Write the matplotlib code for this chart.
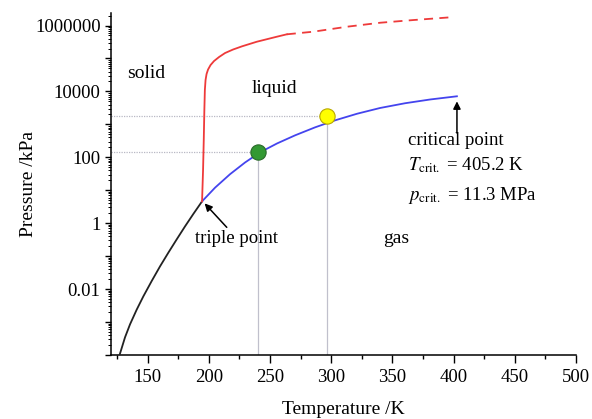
import matplotlib.pyplot as plt
from matplotlib.ticker import FixedLocator, FuncFormatter, NullFormatter

plt.rcParams['font.family'] = 'Liberation Serif'
plt.rcParams['mathtext.fontset'] = 'stix'

# sublimation curve (solid/gas)
sub_T = [127.0, 131.45, 135.54, 140.99, 146.44, 153.25, 160.07, 166.88, 173.70, 180.51, 187.32, 194.41]
sub_p = [1.0e-4, 3.44e-4, 8.53e-4, 2.38e-3, 6.04e-3, 0.0176, 0.0491, 0.128, 0.324, 0.804, 1.92, 4.61]

# vapour pressure curve (liquid/gas)
vap_T = [194.41, 205.03, 217.30, 229.57, 241.83, 255.73, 270.45, 286.80, 303.15, 321.14, 339.94, 360.39, 380.83, 402.66]
vap_p = [4.61, 12.0, 30.8, 69.8, 142, 264, 465, 813, 1327, 2105, 3145, 4383, 5694, 7117]

# melting curve (solid/liquid), measured part and extrapolated part
melt_T = [194.41, 195.23, 195.80, 196.29, 196.70, 197.27, 198.09, 199.31, 201.36, 204.22,
          208.31, 213.21, 219.75, 227.11, 239.13, 255.49, 263.66]
melt_p = [4.61, 41.2, 335, 2730, 11040, 22200, 33750, 46200, 63300, 83700,
          110700, 146300, 187000, 233900, 322000, 457000, 541000]
melt_ext_T = [263.66, 285.3, 312.9, 340.1, 367.4, 397.4]
melt_ext_p = [541000, 649000, 920000, 1.216e6, 1.469e6, 1.774e6]

# marked states
point_T = [240.4, 296.2]
point_p = [150, 1790]
point_colors = ['#339933', '#ffff00']
point_edges = ['#2a6a2a', '#b8a800']

fig = plt.figure(figsize=(5.92, 4.19), dpi=100)
ax = fig.add_axes([0.1875, 0.1527, 0.7855, 0.8163])

ax.set_yscale('log')
ax.set_xlim(120, 500)
ax.set_ylim(1e-4, 2.4e6)

# guide lines to the marked states
for t, p in zip(point_T, point_p):
    ax.plot([120, t], [p, p], color='#b8b8c4', lw=0.9, ls=(0, (1, 1)), zorder=1)
    ax.plot([t, t], [1e-4, p], color='#c0c0cc', lw=0.9, zorder=1)

ax.plot(sub_T, sub_p, color='#222222', lw=1.3, zorder=3)
ax.plot(vap_T, vap_p, color='#4444ee', lw=1.3, zorder=3)
ax.plot(melt_T, melt_p, color='#ee3a3a', lw=1.3, zorder=3)
ax.plot(melt_ext_T, melt_ext_p, color='#ee3a3a', lw=1.3, dashes=(5, 3.5), zorder=3)

for t, p, c, e in zip(point_T, point_p, point_colors, point_edges):
    ax.plot(t, p, 'o', ms=11, mfc=c, mec=e, mew=0.8, zorder=4)

# axes styling
for side in ['top', 'right']:
    ax.spines[side].set_visible(False)
ax.spines['left'].set_linewidth(1.1)
ax.spines['bottom'].set_linewidth(1.1)

ax.xaxis.set_major_locator(FixedLocator([150, 200, 250, 300, 350, 400, 450, 500]))
ax.xaxis.set_minor_locator(FixedLocator([125, 175, 225, 275, 325, 375, 425, 475]))

decades = [10.0 ** k for k in range(-4, 7)]
labels = {1e-2: '0.01', 1.0: '1', 1e2: '100', 1e4: '10000', 1e6: '1000000'}
ax.yaxis.set_major_locator(FixedLocator(decades))
ax.yaxis.set_major_formatter(FuncFormatter(
    lambda v, pos: next((s for k, s in labels.items() if abs(v / k - 1) < 1e-6), '')))
minors = [m * 10.0 ** k for k in range(-4, 7) for m in range(2, 10)]
ax.yaxis.set_minor_locator(FixedLocator(minors))
ax.yaxis.set_minor_formatter(NullFormatter())

ax.tick_params(axis='x', which='major', direction='out', length=6, width=1, labelsize=13.5, pad=4)
ax.tick_params(axis='x', which='minor', direction='out', length=3, width=1)
ax.tick_params(axis='y', which='major', direction='out', length=4.5, width=1, labelsize=13.5, pad=3)
ax.tick_params(axis='y', which='minor', direction='out', length=2.5, width=0.7)

ax.set_xlabel('Temperature /K', fontsize=14)
ax.set_ylabel('Pressure /kPa', fontsize=14)
ax.xaxis.set_label_coords(0.5, -0.135)
ax.yaxis.set_label_coords(-0.16, 0.5)

# region labels
ax.text(132.8, 25500, 'solid', fontsize=14)
ax.text(235.0, 9120, 'liquid', fontsize=14)
ax.text(342.7, 0.25, 'gas', fontsize=14)

# triple point
ax.annotate('', xy=(196.5, 4.0), xytext=(214.6, 0.75),
            arrowprops=dict(arrowstyle='-|>', color='black', lw=1.1, mutation_scale=11,
                            shrinkA=0, shrinkB=0))
ax.text(188.7, 0.256, 'triple point', fontsize=13.5)

# critical point
ax.annotate('', xy=(402.7, 5000), xytext=(402.7, 546),
            arrowprops=dict(arrowstyle='-|>', color='black', lw=1.1, mutation_scale=11,
                            shrinkA=0, shrinkB=0))
ax.text(362.8, 236, 'critical point', fontsize=13.5)
ax.text(362.8, 41.2, r'$T_{\mathrm{crit.}}$ = 405.2 K', fontsize=13.5)
ax.text(362.8, 5.06, r'$p_{\mathrm{crit.}}$ = 11.3 MPa', fontsize=13.5)

fig.savefig('out.png', dpi=100)
